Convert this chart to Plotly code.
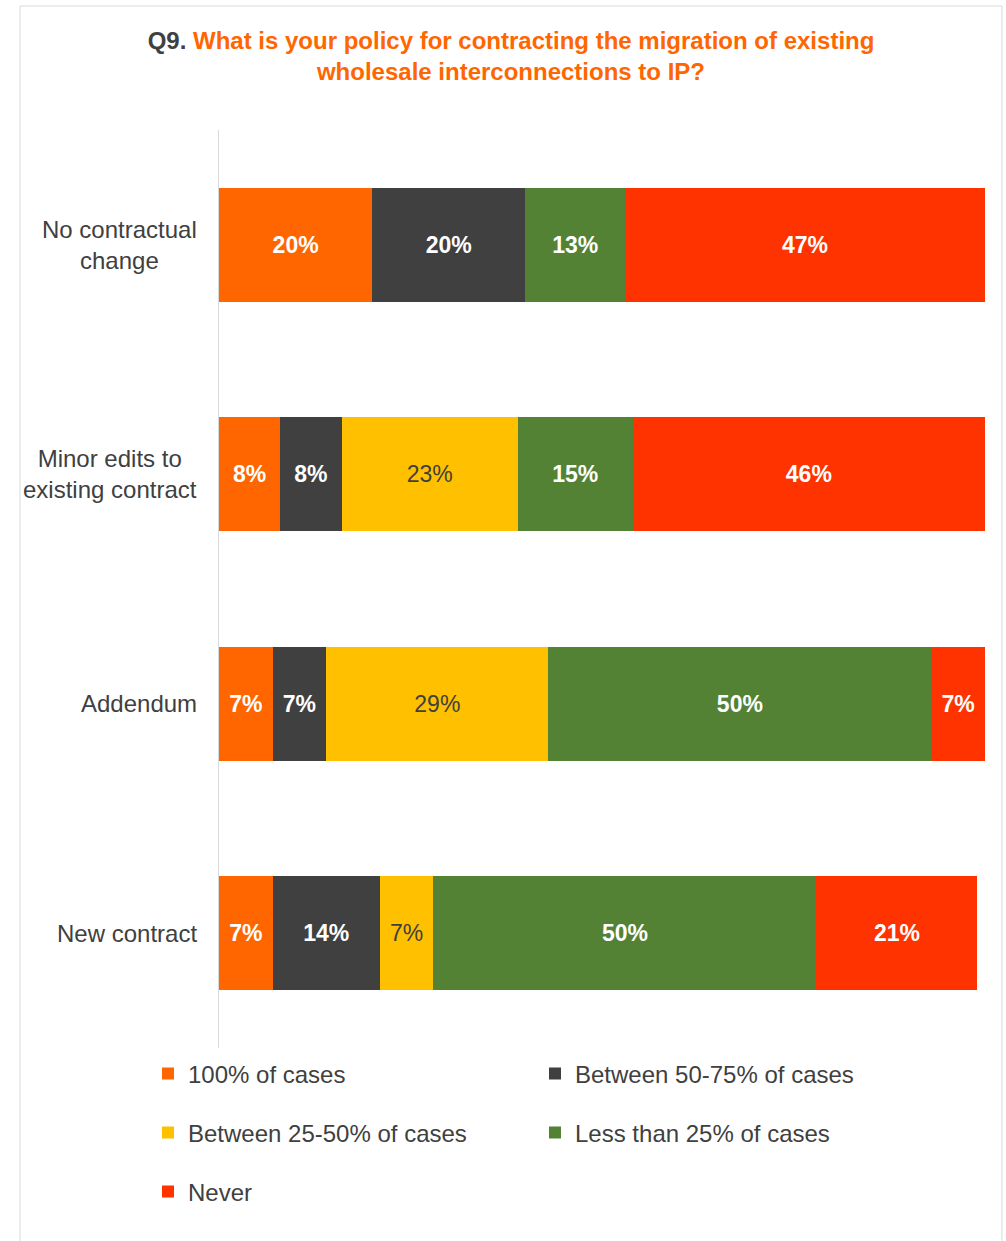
import plotly.graph_objects as go

# Survey answers, one row per contracting approach (top to bottom)
categories = ["No contractual change", "Minor edits to existing contract", "Addendum", "New contract"]
category_labels = ["No contractual<br>change", "Minor edits to<br>existing contract", "Addendum", "New contract"]

series_names = [
    "100% of cases",
    "Between 50-75% of cases",
    "Between 25-50% of cases",
    "Less than 25% of cases",
    "Never",
]

# Share of respondents (%) per category, None where the answer was not given
pct_100 = [20, 8, 7, 7]
pct_50_75 = [20, 8, 7, 14]
pct_25_50 = [None, 23, 29, 7]
pct_lt_25 = [13, 15, 50, 50]
pct_never = [47, 46, 7, 21]

series_values = [pct_100, pct_50_75, pct_25_50, pct_lt_25, pct_never]

colors = ["#FF6600", "#404040", "#FFC000", "#548235", "#FF3300"]
label_colors = ["#FFFFFF", "#FFFFFF", "#404040", "#FFFFFF", "#FFFFFF"]
label_bold = [True, True, False, True, True]

# Legend grid: two columns, three rows (pixel positions of each entry)
legend_ids = ["legend", "legend2", "legend3", "legend4", "legend5"]
legend_left_px = [148, 535, 148, 535, 148]
legend_mid_px = [1074, 1074, 1133, 1133, 1192]

FONT = "Liberation Sans, Arial, sans-serif"
TEXT_GREY = "#404040"

# Plot area in pixels
PLOT_L, PLOT_R, PLOT_T, PLOT_B = 219, 985, 130, 1048
PLOT_W, PLOT_H = PLOT_R - PLOT_L, PLOT_B - PLOT_T
W, H = 1006, 1241

fig = go.Figure()
for name, vals, col, lcol, bold, lg in zip(series_names, series_values, colors,
                                           label_colors, label_bold, legend_ids):
    labels = [f"<b>{v}%</b>" if (bold and v is not None) else (f"{v}%" if v is not None else "")
              for v in vals]
    fig.add_trace(go.Bar(
        name=name,
        y=categories,
        x=[v if v is not None else 0 for v in vals],
        orientation="h",
        marker=dict(color=col, line=dict(width=0)),
        text=labels,
        textposition="inside",
        insidetextanchor="middle",
        textfont=dict(family=FONT, size=23, color=lcol),
        constraintext="none",
        legend=lg,
        hoverinfo="skip",
    ))

# Category names, centred as text blocks to the left of the axis
for cat, lab in zip(categories, category_labels):
    fig.add_annotation(
        x=-20 / PLOT_W, xref="paper", xanchor="right",
        y=cat, yref="y", yanchor="middle",
        text=lab, align="center", showarrow=False,
        font=dict(family=FONT, size=24, color=TEXT_GREY),
    )

# Light frame around the whole chart
fig.add_shape(
    type="rect", xref="paper", yref="paper",
    x0=(20 - PLOT_L) / PLOT_W, x1=(1002 - PLOT_L) / PLOT_W,
    y0=(PLOT_B - 1260) / PLOT_H, y1=(PLOT_B - 6) / PLOT_H,
    line=dict(color="#D9D9D9", width=1), fillcolor="rgba(0,0,0,0)", layer="below",
)

legend_common = dict(
    orientation="h", xref="container", yref="container",
    xanchor="left", yanchor="middle",
    font=dict(family=FONT, size=24, color=TEXT_GREY),
    itemwidth=30, bgcolor="rgba(0,0,0,0)", borderwidth=0,
)
legends = {
    lg: dict(x=lx / W, y=1 - ly / H, **legend_common)
    for lg, lx, ly in zip(legend_ids, legend_left_px, legend_mid_px)
}

fig.update_layout(
    width=W, height=H,
    margin=dict(l=PLOT_L, r=W - PLOT_R, t=PLOT_T, b=H - PLOT_B, autoexpand=False),
    paper_bgcolor="white", plot_bgcolor="white",
    barmode="stack", bargap=0.503,
    title=dict(
        text="<span style='color:#404040'>Q9.</span> What is your policy for contracting the migration of existing<br>wholesale interconnections to IP?",
        x=511 / W, xanchor="center", xref="container",
        y=1 - 49 / H, yanchor="top", yref="container",
        font=dict(family=FONT, size=24, color="#FF6600", weight="bold"),
    ),
    xaxis=dict(range=[0, 100], visible=False, fixedrange=True),
    yaxis=dict(
        categoryorder="array", categoryarray=categories, autorange="reversed",
        showticklabels=False, ticks="", showgrid=False, zeroline=False,
        showline=True, linecolor="#D9D9D9", linewidth=1,
    ),
    showlegend=True,
    **legends,
)

fig.write_html("out.html")
